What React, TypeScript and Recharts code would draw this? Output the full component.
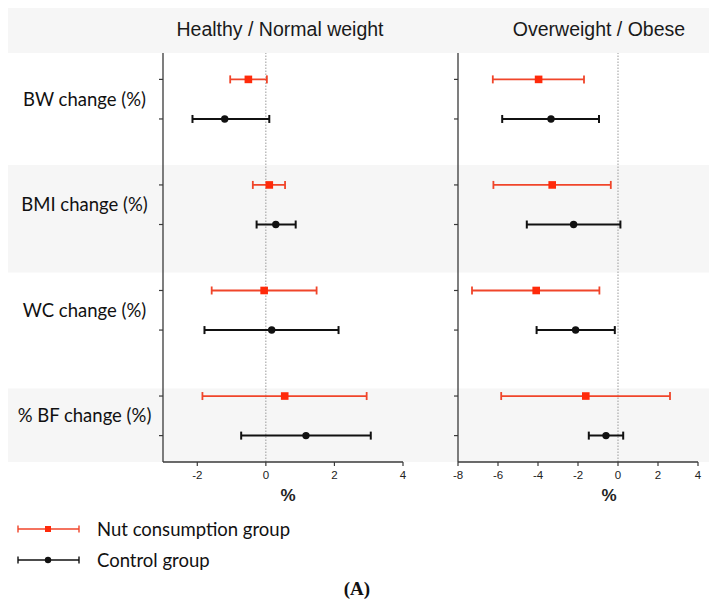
import React from 'react';
import {
  ScatterChart,
  Scatter,
  XAxis,
  YAxis,
  ErrorBar,
  ReferenceLine,
  ReferenceArea,
  Legend,
  Label,
  Text,
} from 'recharts';

// ---------- data ----------
const categories = ['BW change (%)', 'BMI change (%)', 'WC change (%)', '% BF change (%)'];
const panelTitles = ['Healthy / Normal weight', 'Overweight / Obese'];
const seriesNames = ['Nut consumption group', 'Control group'];
const axisTitle = '%';

const healthyNutMean = [-0.51, 0.1, -0.05, 0.55];
const healthyNutLow = [-1.04, -0.38, -1.58, -1.85];
const healthyNutHigh = [0.03, 0.56, 1.48, 2.94];
const healthyCtrlMean = [-1.2, 0.29, 0.17, 1.17];
const healthyCtrlLow = [-2.14, -0.27, -1.79, -0.72];
const healthyCtrlHigh = [0.1, 0.87, 2.12, 3.06];

const overNutMean = [-3.97, -3.29, -4.09, -1.61];
const overNutLow = [-6.26, -6.23, -7.3, -5.84];
const overNutHigh = [-1.7, -0.36, -0.93, 2.6];
const overCtrlMean = [-3.35, -2.22, -2.12, -0.6];
const overCtrlLow = [-5.79, -4.56, -4.07, -1.46];
const overCtrlHigh = [-0.95, 0.12, -0.16, 0.26];

const healthyDomain = [-3, 4];
const healthyTicks = [-2, 0, 2, 4];
const overDomain = [-8, 4];
const overTicks = [-8, -6, -4, -2, 0, 2, 4];

// ---------- layout (row slots on the y axis) ----------
const ROW_STEP = 8;
const NUT_OFFSET = 2;
const CTRL_OFFSET = 5;
const LABEL_OFFSET = 3.5;
const Y_MAX = 31;
const HEADER_TOP = -3.41;
const BANDS = [
  [8.49, 16.64],
  [25.42, 31],
];

const nutRowPos = categories.map((_, i) => i * ROW_STEP + NUT_OFFSET);
const ctrlRowPos = categories.map((_, i) => i * ROW_STEP + CTRL_OFFSET);
const labelRowPos = categories.map((_, i) => i * ROW_STEP + LABEL_OFFSET);

const RED = '#ff2a0a';
const RED_BAR = '#f0452a';
const BLACK = '#111111';
const AXIS = '#3a3a3a';
const BAND = '#f6f6f6';

function buildRows(mean: number[], low: number[], high: number[], pos: number[]) {
  return mean.map((m, i) => ({
    x: m,
    y: pos[i],
    err: [m - low[i], high[i] - m],
    name: categories[i],
  }));
}

const healthyNut = buildRows(healthyNutMean, healthyNutLow, healthyNutHigh, nutRowPos);
const healthyCtrl = buildRows(healthyCtrlMean, healthyCtrlLow, healthyCtrlHigh, ctrlRowPos);
const overNut = buildRows(overNutMean, overNutLow, overNutHigh, nutRowPos);
const overCtrl = buildRows(overCtrlMean, overCtrlLow, overCtrlHigh, ctrlRowPos);

const SquareShape = (p: any) => (
  <rect x={p.cx - 3.8} y={p.cy - 3.8} width={7.6} height={7.6} fill={RED} />
);
const CircleShape = (p: any) => <circle cx={p.cx} cy={p.cy} r={3.7} fill={BLACK} />;

const makeYTick = (withLabels: boolean) => (props: any) => {
  const { x, y, payload } = props;
  const idx = labelRowPos.indexOf(payload.value);
  if (idx >= 0) {
    if (!withLabels) return <g />;
    return (
      <Text
        x={x - 74.5}
        y={y}
        textAnchor="middle"
        verticalAnchor="middle"
        style={{ fontFamily: 'Lato', fontSize: 18.5, fill: '#111' }}
      >
        {categories[idx]}
      </Text>
    );
  }
  return <line x1={x} x2={x + 4} y1={y} y2={y} stroke={AXIS} strokeWidth={1.2} />;
};

const LegendIcon = ({ color, lineColor, square }: any) => (
  <svg width={63} height={14} style={{ display: 'block' }}>
    <line x1={1} x2={62} y1={7} y2={7} stroke={lineColor} strokeWidth={1.4} />
    <line x1={1} x2={1} y1={3.5} y2={10.5} stroke={lineColor} strokeWidth={1.4} />
    <line x1={62} x2={62} y1={3.5} y2={10.5} stroke={lineColor} strokeWidth={1.4} />
    {square ? (
      <rect x={28} y={4} width={6} height={6} fill={color} />
    ) : (
      <circle cx={31} cy={7} r={3.2} fill={color} />
    )}
  </svg>
);

const legendItems = [
  { name: seriesNames[0], color: RED, lineColor: RED_BAR, square: true },
  { name: seriesNames[1], color: BLACK, lineColor: BLACK, square: false },
];

const LegendContent = () => (
  <div style={{ display: 'flex', flexDirection: 'column', fontFamily: 'Lato', fontSize: 18.5, color: '#111' }}>
    {legendItems.map((it) => (
      <div key={it.name} style={{ display: 'flex', alignItems: 'center', height: 31 }}>
        <LegendIcon color={it.color} lineColor={it.lineColor} square={it.square} />
        <span style={{ marginLeft: 17, whiteSpace: 'nowrap' }}>{it.name}</span>
      </div>
    ))}
  </div>
);

type PanelProps = {
  width: number;
  left: number;
  yWidth: number;
  rightMargin: number;
  domain: number[];
  ticks: number[];
  title: string;
  titleDx: number;
  pctDx: number;
  nut: any[];
  ctrl: any[];
  withLabels: boolean;
  withLegend: boolean;
  bandX: number[];
};

const allYTicks = (withLabels: boolean) =>
  [...nutRowPos, ...ctrlRowPos, ...(withLabels ? labelRowPos : [])].sort((a, b) => a - b);

function Panel(p: PanelProps) {
  return (
    <div style={{ position: 'absolute', left: p.left, top: 0 }}>
      <ScatterChart
        width={p.width}
        height={575}
        margin={{ top: 0, right: p.rightMargin, bottom: 71, left: 0 }}
      >
        <ReferenceArea
          xAxisId="main"
          x1={p.bandX[0]}
          x2={p.bandX[1]}
          y1={HEADER_TOP}
          y2={0}
          fill={BAND}
          fillOpacity={1}
          stroke="none"
          ifOverflow="visible"
        />
        {BANDS.map((b, i) => (
          <ReferenceArea
            key={i}
            xAxisId="main"
            x1={p.bandX[0]}
            x2={p.bandX[1]}
            y1={b[0]}
            y2={b[1]}
            fill={BAND}
            fillOpacity={1}
            stroke="none"
            ifOverflow="visible"
          />
        ))}
        <XAxis
          xAxisId="top"
          orientation="top"
          type="number"
          dataKey="x"
          domain={p.domain}
          height={45}
          tick={false}
          tickLine={false}
          axisLine={false}
        >
          <Label
            value={p.title}
            position="center"
            dx={p.titleDx}
            dy={-1}
            style={{ fontFamily: 'Liberation Sans', fontSize: 19.5, fill: '#1a1a1a' }}
          />
        </XAxis>
        <XAxis
          xAxisId="main"
          orientation="bottom"
          type="number"
          dataKey="x"
          domain={p.domain}
          ticks={p.ticks}
          interval={0}
          height={50}
          tickSize={4}
          tickMargin={5}
          stroke={AXIS}
          axisLine={{ stroke: AXIS, strokeWidth: 1.3 }}
          tickLine={{ stroke: AXIS, strokeWidth: 1.2 }}
          tick={{ fontFamily: 'Liberation Sans', fontSize: 11.5, fill: '#222' }}
        >
          <Label
            value={axisTitle}
            position="insideBottom"
            offset={11}
            dx={p.pctDx}
            style={{ fontFamily: 'Liberation Sans', fontSize: 17, fontWeight: 'bold', fill: '#222' }}
          />
        </XAxis>
        <YAxis
          type="number"
          dataKey="y"
          domain={[0, Y_MAX]}
          reversed
          ticks={allYTicks(p.withLabels)}
          interval={0}
          width={p.yWidth}
          tickSize={4}
          tickMargin={0}
          tickLine={false}
          axisLine={{ stroke: AXIS, strokeWidth: 1.3 }}
          tick={makeYTick(p.withLabels)}
        />
        <ReferenceLine xAxisId="main" x={0} stroke="#9a9a9a" strokeWidth={1} strokeDasharray="1.5 1.5" />
        <Scatter
          xAxisId="main"
          name={seriesNames[0]}
          data={p.nut}
          fill={RED}
          shape={SquareShape}
          isAnimationActive={false}
        >
          <ErrorBar dataKey="err" direction="x" width={4} stroke={RED_BAR} strokeWidth={1.8} isAnimationActive={false} />
        </Scatter>
        <Scatter
          xAxisId="main"
          name={seriesNames[1]}
          data={p.ctrl}
          fill={BLACK}
          shape={CircleShape}
          isAnimationActive={false}
        >
          <ErrorBar dataKey="err" direction="x" width={4} stroke={BLACK} strokeWidth={2} isAnimationActive={false} />
        </Scatter>
        {p.withLegend && (
          <Legend
            layout="vertical"
            align="center"
            verticalAlign="middle"
            content={<LegendContent />}
            wrapperStyle={{ position: 'absolute', left: 9, top: 505, width: 400 }}
          />
        )}
      </ScatterChart>
    </div>
  );
}

export default function App() {
  return (
    <div style={{ position: 'relative', width: 709, height: 591, overflow: 'hidden', background: '#fff' }}>
      <Panel
        width={422}
        left={0}
        yWidth={155}
        rightMargin={27}
        domain={healthyDomain}
        ticks={healthyTicks}
        title={panelTitles[0]}
        titleDx={-3}
        pctDx={5}
        nut={healthyNut}
        ctrl={healthyCtrl}
        withLabels={true}
        withLegend={true}
        bandX={[-8, 5]}
      />
      <Panel
        width={287}
        left={422}
        yWidth={28}
        rightMargin={19}
        domain={overDomain}
        ticks={overTicks}
        title={panelTitles[1]}
        titleDx={21}
        pctDx={31}
        nut={overNut}
        ctrl={overCtrl}
        withLabels={false}
        withLegend={false}
        bandX={[-10, 6]}
      />
      <div
        style={{
          position: 'absolute',
          left: 0,
          width: 698,
          top: 571,
          textAlign: 'center',
          fontFamily: 'Liberation Serif',
          fontWeight: 'bold',
          fontSize: 19,
          lineHeight: '19px',
          color: '#111',
        }}
      >
        (A)
      </div>
    </div>
  );
}
